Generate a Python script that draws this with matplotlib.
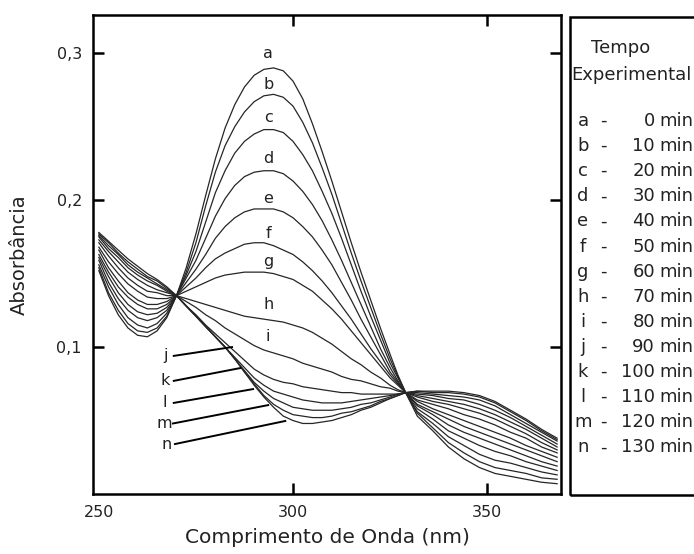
import matplotlib.pyplot as plt
from matplotlib.patches import Rectangle

# comprimento de onda (nm)
wl = [250, 252.5, 255, 257.5, 260, 262.5, 265, 267.5, 270,
      272.5, 275, 277.5, 280, 282.5, 285, 287.5, 290, 292.5, 295, 297.5, 300,
      302.5, 305, 307.5, 310, 312.5, 315, 317.5, 320, 322.5, 325, 327, 329,
      332, 336, 340, 344, 348, 352, 356, 360, 364, 368]

# absorbancia de cada espectro (a = 0 min ... n = 130 min)
curve_a = [0.152, 0.135, 0.122, 0.113, 0.108, 0.107, 0.111, 0.120, 0.135,
           0.154, 0.177, 0.203, 0.228, 0.249, 0.265, 0.277, 0.285, 0.289, 0.290, 0.288, 0.281,
           0.269, 0.252, 0.233, 0.213, 0.192, 0.171, 0.151, 0.132, 0.113, 0.095, 0.081, 0.069,
           0.053, 0.043, 0.032, 0.024, 0.018, 0.014, 0.012, 0.010, 0.008, 0.007]
curve_b = [0.154, 0.137, 0.125, 0.116, 0.111, 0.110, 0.113, 0.121, 0.135,
           0.151, 0.171, 0.196, 0.219, 0.237, 0.250, 0.260, 0.267, 0.271, 0.272, 0.270, 0.264,
           0.253, 0.239, 0.222, 0.204, 0.184, 0.164, 0.145, 0.127, 0.109, 0.092, 0.080, 0.069,
           0.055, 0.045, 0.035, 0.028, 0.022, 0.018, 0.016, 0.014, 0.011, 0.010]
curve_c = [0.156, 0.141, 0.129, 0.120, 0.115, 0.113, 0.116, 0.123, 0.135,
           0.149, 0.165, 0.185, 0.205, 0.220, 0.232, 0.240, 0.245, 0.248, 0.248, 0.246, 0.240,
           0.231, 0.220, 0.206, 0.191, 0.174, 0.156, 0.138, 0.121, 0.105, 0.089, 0.079, 0.069,
           0.056, 0.048, 0.039, 0.033, 0.027, 0.023, 0.021, 0.018, 0.015, 0.013]
curve_d = [0.159, 0.144, 0.133, 0.125, 0.120, 0.118, 0.120, 0.125, 0.135,
           0.147, 0.159, 0.174, 0.189, 0.201, 0.210, 0.216, 0.219, 0.220, 0.220, 0.218, 0.213,
           0.206, 0.197, 0.186, 0.173, 0.159, 0.144, 0.129, 0.114, 0.099, 0.086, 0.077, 0.069,
           0.058, 0.051, 0.043, 0.038, 0.033, 0.029, 0.026, 0.022, 0.019, 0.016]
curve_e = [0.161, 0.148, 0.137, 0.129, 0.124, 0.122, 0.123, 0.127, 0.135,
           0.144, 0.153, 0.163, 0.174, 0.182, 0.188, 0.192, 0.194, 0.194, 0.194, 0.192, 0.188,
           0.182, 0.175, 0.166, 0.156, 0.144, 0.132, 0.119, 0.107, 0.095, 0.083, 0.076, 0.069,
           0.060, 0.054, 0.047, 0.042, 0.038, 0.034, 0.030, 0.026, 0.022, 0.019]
curve_f = [0.163, 0.151, 0.141, 0.134, 0.129, 0.126, 0.126, 0.129, 0.135,
           0.141, 0.147, 0.154, 0.160, 0.164, 0.167, 0.170, 0.171, 0.171, 0.169, 0.166, 0.163,
           0.158, 0.152, 0.145, 0.137, 0.128, 0.119, 0.109, 0.099, 0.090, 0.081, 0.075, 0.069,
           0.061, 0.056, 0.051, 0.046, 0.042, 0.038, 0.034, 0.030, 0.026, 0.022]
curve_g = [0.166, 0.154, 0.145, 0.137, 0.132, 0.129, 0.129, 0.131, 0.135,
           0.138, 0.141, 0.144, 0.147, 0.149, 0.150, 0.151, 0.151, 0.151, 0.150, 0.148, 0.146,
           0.142, 0.138, 0.132, 0.126, 0.119, 0.111, 0.103, 0.095, 0.087, 0.079, 0.074, 0.069,
           0.063, 0.058, 0.054, 0.050, 0.046, 0.042, 0.038, 0.033, 0.029, 0.025]
curve_h = [0.168, 0.158, 0.150, 0.143, 0.138, 0.134, 0.133, 0.133, 0.135,
           0.133, 0.131, 0.129, 0.127, 0.125, 0.123, 0.121, 0.120, 0.119, 0.118, 0.117, 0.115,
           0.113, 0.110, 0.106, 0.102, 0.097, 0.092, 0.088, 0.083, 0.079, 0.074, 0.071, 0.069,
           0.064, 0.061, 0.058, 0.054, 0.051, 0.047, 0.042, 0.038, 0.032, 0.028]
curve_i = [0.171, 0.162, 0.154, 0.147, 0.142, 0.138, 0.137, 0.135, 0.135,
           0.131, 0.127, 0.122, 0.118, 0.113, 0.109, 0.105, 0.101, 0.098, 0.096, 0.094, 0.092,
           0.089, 0.087, 0.085, 0.083, 0.080, 0.078, 0.077, 0.075, 0.073, 0.072, 0.070, 0.069,
           0.066, 0.063, 0.061, 0.058, 0.055, 0.051, 0.046, 0.041, 0.035, 0.030]
curve_j = [0.173, 0.165, 0.158, 0.151, 0.146, 0.142, 0.139, 0.137, 0.135,
           0.128, 0.122, 0.115, 0.109, 0.103, 0.097, 0.091, 0.085, 0.081, 0.078, 0.076, 0.075,
           0.073, 0.072, 0.071, 0.070, 0.069, 0.069, 0.068, 0.068, 0.068, 0.068, 0.068, 0.069,
           0.067, 0.065, 0.063, 0.061, 0.058, 0.054, 0.049, 0.044, 0.038, 0.032]
curve_k = [0.175, 0.167, 0.161, 0.154, 0.149, 0.145, 0.142, 0.138, 0.135,
           0.128, 0.121, 0.114, 0.107, 0.100, 0.093, 0.086, 0.079, 0.074, 0.070, 0.068, 0.066,
           0.064, 0.063, 0.062, 0.062, 0.062, 0.063, 0.064, 0.065, 0.066, 0.067, 0.068, 0.069,
           0.068, 0.067, 0.065, 0.064, 0.061, 0.057, 0.052, 0.046, 0.040, 0.034]
curve_l = [0.176, 0.169, 0.163, 0.156, 0.151, 0.147, 0.143, 0.139, 0.135,
           0.128, 0.121, 0.114, 0.107, 0.100, 0.092, 0.084, 0.076, 0.070, 0.065, 0.062, 0.059,
           0.058, 0.057, 0.057, 0.057, 0.058, 0.059, 0.061, 0.062, 0.064, 0.066, 0.068, 0.069,
           0.069, 0.068, 0.067, 0.066, 0.064, 0.060, 0.054, 0.048, 0.042, 0.036]
curve_m = [0.177, 0.171, 0.164, 0.158, 0.153, 0.148, 0.145, 0.140, 0.135,
           0.128, 0.121, 0.114, 0.107, 0.100, 0.092, 0.083, 0.075, 0.067, 0.061, 0.057, 0.054,
           0.053, 0.052, 0.052, 0.053, 0.055, 0.056, 0.058, 0.060, 0.063, 0.065, 0.067, 0.069,
           0.070, 0.069, 0.069, 0.068, 0.066, 0.062, 0.056, 0.050, 0.043, 0.037]
curve_n = [0.178, 0.172, 0.166, 0.160, 0.155, 0.150, 0.146, 0.141, 0.135,
           0.128, 0.121, 0.114, 0.107, 0.100, 0.092, 0.083, 0.074, 0.066, 0.059, 0.053, 0.050,
           0.048, 0.048, 0.049, 0.050, 0.052, 0.054, 0.057, 0.059, 0.062, 0.065, 0.067, 0.069,
           0.070, 0.070, 0.070, 0.069, 0.067, 0.063, 0.057, 0.051, 0.044, 0.038]

spectra = [curve_a, curve_b, curve_c, curve_d, curve_e, curve_f, curve_g,
           curve_h, curve_i, curve_j, curve_k, curve_l, curve_m, curve_n]
letters = ['a', 'b', 'c', 'd', 'e', 'f', 'g', 'h', 'i', 'j', 'k', 'l', 'm', 'n']
tempos = [0, 10, 20, 30, 40, 50, 60, 70, 80, 90, 100, 110, 120, 130]

xticks = [250, 300, 350]
yticks = [0.1, 0.2, 0.3]
ytick_labels = ['0,1', '0,2', '0,3']

W, H = 694, 554
fig = plt.figure(figsize=(W / 100, H / 100), dpi=100)
ax = fig.add_axes([93 / W, 1 - 494 / H, (561 - 93) / W, (494 - 15) / H])

for y in spectra:
    ax.plot(wl, y, color='#262626', lw=0.9)

# letras sobre os picos
top_pos = {'a': 0.300, 'b': 0.279, 'c': 0.256, 'd': 0.228, 'e': 0.201,
           'f': 0.177, 'g': 0.158, 'h': 0.129, 'i': 0.107}
for k, v in top_pos.items():
    ax.text(293.6, v, k, fontsize=11.5, ha='center', va='center', color='#222222')

# letras com setas (j-n)
pointers = [('j', 267.1, 0.094, 284.3, 0.100),
            ('k', 267.1, 0.077, 286.4, 0.0857),
            ('l', 267.1, 0.062, 289.7, 0.0714),
            ('m', 266.9, 0.048, 293.6, 0.0605),
            ('n', 267.4, 0.034, 298.0, 0.0497)]
for lab, tx, ty, px, py in pointers:
    ax.text(tx, ty, lab, fontsize=11.5, ha='center', va='center', color='#222222')
    ax.plot([tx + 2.2, px], [ty, py], color='black', lw=1.4)

ax.set_xlim(248.5, 369)
ax.set_ylim(0, 0.326)
ax.set_xticks(xticks)
ax.set_yticks(yticks)
ax.set_yticklabels(ytick_labels)
ax.tick_params(direction='in', length=8, width=1.8, top=True, right=True,
               labelsize=11.5, pad=8, colors='black', labelcolor='#222222')
ax.xaxis.get_major_ticks()[0].tick1line.set_visible(False)
ax.xaxis.get_major_ticks()[0].tick2line.set_visible(False)
for s in ax.spines.values():
    s.set_linewidth(1.8)

ax.set_xlabel('Comprimento de Onda (nm)', fontsize=14.5, labelpad=6, color='#222222')
ax.set_ylabel('Absorbância', fontsize=14, labelpad=20, color='#222222')

# caixa da legenda (sai pela borda direita)
fig.patches.append(Rectangle((570 / W, 1 - 495 / H), 200 / W, (495 - 17) / H,
                             transform=fig.transFigure, fill=False,
                             lw=1.8, edgecolor='black'))
fig.text(621 / W, 1 - 48 / H, 'Tempo', fontsize=13, ha='center', va='center', color='#222222')
fig.text(571 / W, 1 - 75 / H, 'Experimental', fontsize=13, ha='left', va='center', color='#222222')
for i in range(len(letters)):
    yy = 1 - (121 + 25.1 * i) / H
    fig.text(583 / W, yy, letters[i], fontsize=13, ha='center', va='center', color='#222222')
    fig.text(603 / W, yy, '-', fontsize=13, ha='center', va='center', color='#222222')
    fig.text(655 / W, yy, str(tempos[i]), fontsize=13, ha='right', va='center', color='#222222')
    fig.text(659 / W, yy, 'min', fontsize=13, ha='left', va='center', color='#222222')

fig.savefig('out.png', dpi=100)
